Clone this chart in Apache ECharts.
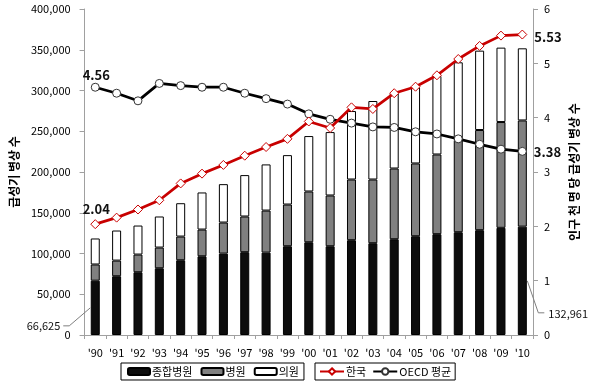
<!DOCTYPE html>
<html>
<head>
<meta charset="utf-8">
<script src="https://cdn.jsdelivr.net/npm/echarts@6/dist/echarts.min.js"></script>
<style>html,body{margin:0;padding:0;background:#fff}#c{width:594px;height:389px}</style>
</head>
<body>
<div id="c"></div>
<script>
const categories = ["'90","'91","'92","'93","'94","'95","'96","'97","'98","'99","'00","'01","'02","'03","'04","'05","'06","'07","'08","'09","'10"];
const generalHospital = [66625,72100,77000,81900,91700,96600,99900,101600,101100,108900,113800,108900,116300,112600,117500,121200,123700,126100,128600,131500,132961];
const hospital = [19900,19200,21700,25400,29100,32800,38100,43800,51600,51200,62300,62300,74500,78200,86800,89300,97800,113100,122900,129800,130300];
const clinic = [31900,36900,35600,38100,40900,45500,47100,50800,56600,60600,68000,77800,84000,96300,92200,93400,96300,95400,97400,91300,88500];
const korea = [2.04,2.16,2.31,2.48,2.79,2.97,3.13,3.30,3.46,3.61,3.93,3.81,4.19,4.16,4.45,4.57,4.78,5.08,5.32,5.51,5.53];
const oecd = [4.56,4.45,4.31,4.63,4.59,4.56,4.56,4.45,4.35,4.25,4.07,3.97,3.90,3.83,3.82,3.74,3.70,3.61,3.51,3.42,3.38];
const leftTicks = {min:0, max:400000, interval:50000};
const rightTicks = {min:0, max:6, interval:1};

const FONT = '"Noto Sans CJK KR", "Noto Sans", sans-serif';
const AXC = '#a0a0a0';
const chart = echarts.init(document.getElementById('c'), null, {renderer:'canvas'});
const last = korea.length - 1;
const lblStyle = {show:true, fontSize:13, fontWeight:'bold', color:'#111', fontFamily:FONT};

const koreaData = korea.map((v,i)=>{
  if (i===0) return {value:v, label:Object.assign({}, lblStyle, {position:'top', offset:[1,1], formatter:v.toFixed(2)})};
  if (i===last) return {value:v, label:Object.assign({}, lblStyle, {position:'right', offset:[2,3], formatter:v.toFixed(2)})};
  return v;
});
const oecdData = oecd.map((v,i)=>{
  if (i===0) return {value:v, label:Object.assign({}, lblStyle, {position:'top', offset:[1,4], formatter:v.toFixed(2)})};
  if (i===last) return {value:v, label:Object.assign({}, lblStyle, {position:'right', offset:[2,1], formatter:v.toFixed(2)})};
  return v;
});

const barStyle = (c)=>({color:c, borderColor:'#000', borderWidth:1});

chart.setOption({
  animation:false,
  textStyle:{fontFamily:FONT},
  grid:{left:76, right:61, top:9, bottom:54},
  legend:[
    {data:['종합병원','병원','의원'], left:121, top:363, orient:'horizontal',
     borderColor:'#000', borderWidth:1, padding:[3,5,3,6], itemGap:8, itemWidth:22, itemHeight:7,
     textStyle:{fontSize:11, color:'#000', fontFamily:FONT, padding:[0,0,0,-3]}, selectedMode:false},
    {data:['한국','OECD 평균'], left:315, top:363, orient:'horizontal',
     borderColor:'#000', borderWidth:1, padding:[3,4,3,4], itemGap:6, itemWidth:24, itemHeight:8,
     textStyle:{fontSize:11, color:'#000', fontFamily:FONT, padding:[0,0,0,-3]}, selectedMode:false}
  ],
  xAxis:{type:'category', data:categories, boundaryGap:true,
    axisLine:{lineStyle:{color:AXC}}, axisTick:{show:true, alignWithLabel:false, length:4, lineStyle:{color:AXC}},
    axisLabel:{color:'#000', fontSize:11, margin:12, interval:0, fontFamily:FONT}, splitLine:{show:false}},
  yAxis:[
    {type:'value', min:leftTicks.min, max:leftTicks.max, interval:leftTicks.interval, position:'left',
     name:'급성기 병상 수', nameLocation:'middle', nameGap:63, nameRotate:90,
     nameTextStyle:{fontSize:12, fontWeight:'bold', color:'#000', fontFamily:FONT},
     axisLine:{show:true, lineStyle:{color:AXC}}, axisTick:{show:true, length:5, lineStyle:{color:AXC}},
     axisLabel:{color:'#000', fontSize:11, margin:14, fontFamily:FONT, formatter:(v)=>v.toLocaleString('en-US')},
     splitLine:{show:false}},
    {type:'value', min:rightTicks.min, max:rightTicks.max, interval:rightTicks.interval, position:'right',
     name:'인구 천 명 당 급성기 병상 수', nameLocation:'middle', nameGap:35, nameRotate:90,
     nameTextStyle:{fontSize:12, fontWeight:'bold', color:'#000', fontFamily:FONT},
     axisLine:{show:true, lineStyle:{color:AXC}}, axisTick:{show:true, length:5, lineStyle:{color:AXC}},
     axisLabel:{color:'#000', fontSize:11, margin:11, fontFamily:FONT},
     splitLine:{show:false}}
  ],
  series:[
    {name:'종합병원', type:'bar', stack:'beds', barWidth:9, data:generalHospital, itemStyle:barStyle('#0d0d0d')},
    {name:'병원', type:'bar', stack:'beds', barWidth:9, data:hospital, itemStyle:barStyle('#808080')},
    {name:'의원', type:'bar', stack:'beds', barWidth:9, data:clinic, itemStyle:barStyle('#ffffff')},
    {name:'한국', type:'line', yAxisIndex:1, data:koreaData, symbol:'diamond', symbolSize:9,
     lineStyle:{color:'#c80000', width:2.75}, itemStyle:{color:'#fff', borderColor:'#c80000', borderWidth:1}, z:5},
    {name:'OECD 평균', type:'line', yAxisIndex:1, data:oecdData, symbol:'circle', symbolSize:8,
     lineStyle:{color:'#000', width:2.75}, itemStyle:{color:'#fff', borderColor:'#333', borderWidth:1}, z:4}
  ]
});

// callouts for first and last general-hospital bars
const p0 = chart.convertToPixel({xAxisIndex:0, yAxisIndex:0}, [0, generalHospital[0]/2]);
const pN = chart.convertToPixel({xAxisIndex:0, yAxisIndex:0}, [last, generalHospital[last]/2]);
const half = 5;
const e0 = [p0[0]-half-21, p0[1]+18];
const eN = [pN[0]+half+11, pN[1]+32];
chart.setOption({graphic:[
  {type:'polyline', shape:{points:[[p0[0]-half, p0[1]], e0, [e0[0]-6, e0[1]]]}, style:{stroke:'#7f7f7f', lineWidth:1, fill:null}, z:10},
  {type:'text', x:e0[0]-9, y:e0[1], style:{text:generalHospital[0].toLocaleString('en-US'), fill:'#111', font:'11px '+FONT, align:'right', verticalAlign:'middle'}, z:10},
  {type:'polyline', shape:{points:[[pN[0]+half, pN[1]], eN, [eN[0]+6, eN[1]]]}, style:{stroke:'#7f7f7f', lineWidth:1, fill:null}, z:10},
  {type:'text', x:eN[0]+10, y:eN[1]+1, style:{text:generalHospital[last].toLocaleString('en-US'), fill:'#111', font:'11px '+FONT, align:'left', verticalAlign:'middle'}, z:10}
]});
</script>
</body>
</html>
